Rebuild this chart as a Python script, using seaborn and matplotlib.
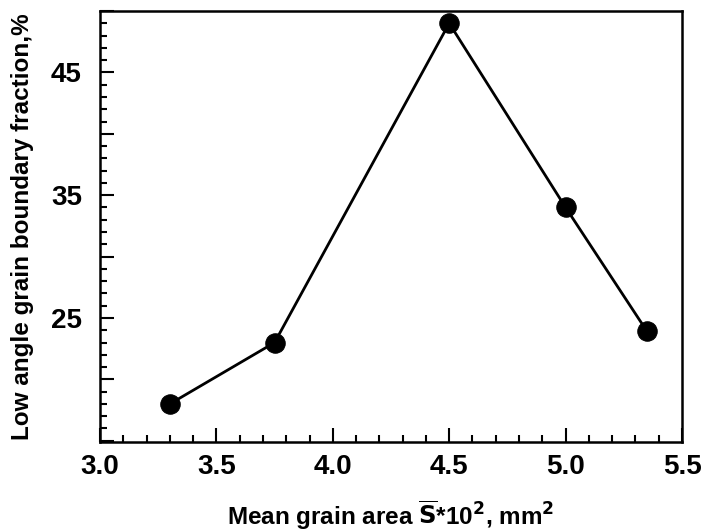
import matplotlib
matplotlib.use("Agg")
import matplotlib.pyplot as plt
import seaborn as sns
import pandas as pd
from matplotlib.ticker import FixedLocator, MultipleLocator, FuncFormatter

# data
grain_area = [3.30, 3.75, 4.50, 5.00, 5.35]
lagb_fraction = [18.0, 23.0, 49.0, 34.0, 23.9]
x_ticks = [3.0, 3.5, 4.0, 4.5, 5.0, 5.5]
y_major = [15, 20, 25, 30, 35, 40, 45, 50]
y_labelled = [25, 35, 45]

df = pd.DataFrame({"x": grain_area, "y": lagb_fraction})

sns.set_style("ticks")
fam = ["Liberation Sans Narrow", "Liberation Sans", "DejaVu Sans"]
plt.rcParams["font.family"] = fam
plt.rcParams["font.weight"] = "bold"
plt.rcParams["text.color"] = "black"
plt.rcParams["axes.labelcolor"] = "black"
plt.rcParams["xtick.color"] = "black"
plt.rcParams["ytick.color"] = "black"
plt.rcParams["xtick.labelcolor"] = "black"
plt.rcParams["ytick.labelcolor"] = "black"
plt.rcParams["mathtext.fontset"] = "custom"
plt.rcParams["mathtext.rm"] = "Liberation Sans Narrow:bold"
plt.rcParams["mathtext.bf"] = "Liberation Sans Narrow:bold"
plt.rcParams["mathtext.it"] = "Liberation Sans Narrow:bold"

fig = plt.figure(figsize=(7.01, 5.32), dpi=100)
ax = fig.add_axes([100/701, 1-442/532, 582/701, 431/532])

sns.lineplot(data=df, x="x", y="y", ax=ax, color="black", linewidth=2.0,
             marker="o", markersize=14, markerfacecolor="black",
             markeredgecolor="black", sort=False)

ax.set_xlim(3.0, 5.5)
ax.set_ylim(14.9, 50.0)
ax.xaxis.set_major_locator(FixedLocator(x_ticks))
ax.xaxis.set_minor_locator(MultipleLocator(0.1))
ax.xaxis.set_major_formatter(FuncFormatter(lambda v, p: f"{v:.1f}"))
ax.yaxis.set_major_locator(FixedLocator(y_major))
ax.yaxis.set_minor_locator(MultipleLocator(1))
ax.yaxis.set_major_formatter(FuncFormatter(
    lambda v, p: f"{int(round(v))}" if int(round(v)) in y_labelled else ""))

ax.tick_params(which="both", direction="in", top=False, right=False,
               width=1.5, color="black", labelcolor="black")
ax.tick_params(which="major", length=10)
ax.tick_params(which="minor", length=5)
ax.tick_params(axis="y", which="major", pad=13, labelsize=20)
ax.tick_params(axis="x", which="major", pad=9, labelsize=20)
for lab in ax.get_xticklabels() + ax.get_yticklabels():
    lab.set_fontweight("bold")

for s in ax.spines.values():
    s.set_visible(True)
    s.set_linewidth(1.8)
    s.set_color("black")

ax.set_xlabel(r"Mean grain area $\overline{\mathrm{S}}$*10$^{2}$, mm$^{2}$",
              fontsize=17.5, fontweight="bold", labelpad=13, color="black")
ax.set_ylabel("Low angle grain boundary fraction,%", fontsize=17.5,
              fontweight="bold", labelpad=12, color="black")
ax.grid(False)

fig.savefig("out.png", dpi=100)
